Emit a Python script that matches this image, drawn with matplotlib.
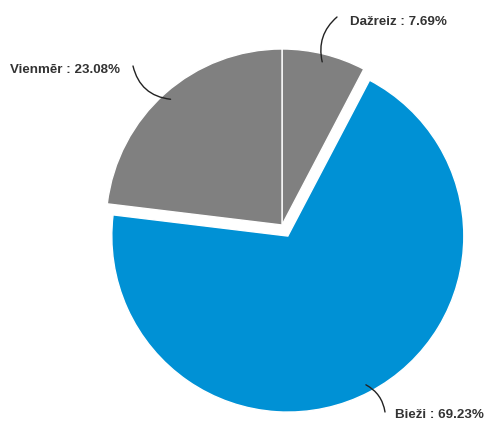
import numpy as np
import matplotlib
matplotlib.use("Agg")
import matplotlib.pyplot as plt

# answer shares, clockwise from the top
labels = ["Dažreiz", "Bieži", "Vienmēr"]
shares = [7.69, 69.23, 23.08]
colors = ["#808080", "#0091d5", "#808080"]

plt.rcParams['font.family'] = ['Liberation Sans', 'DejaVu Sans']

fig = plt.figure(figsize=(4.88, 4.23), dpi=100)
ax = fig.add_axes([0, 0, 1, 1])

cx, cy, r = 282, 198, 176
explode = [0, 12.5, 0]  # pie offsets wedges in data units
wedges, _ = ax.pie(shares, colors=colors, explode=explode, startangle=90,
                   counterclock=False, center=(cx, cy), radius=r,
                   wedgeprops=dict(edgecolor="white", linewidth=1))
ax.set_xlim(0, 488)
ax.set_ylim(0, 423)
ax.set_aspect("equal")
ax.axis("off")

# label text anchor (left edge, middle), leader end and curve bend
text_pos = [(350, 401), (395, 8), (10, 353)]
line_end = [(337, 406), (385, 11), (133, 357)]
bends = [0.3, 0.25, 0.35]

for w, lab, val, tp, le, rad in zip(wedges, labels, shares, text_pos, line_end, bends):
    ang = np.deg2rad((w.theta1 + w.theta2) / 2)
    x0, y0 = w.center
    px = x0 + (w.r - 8) * np.cos(ang)
    py = y0 + (w.r - 8) * np.sin(ang)
    ax.annotate("", xy=(px, py), xytext=le,
                arrowprops=dict(arrowstyle="-", color="#222222", lw=1,
                                connectionstyle=f"arc3,rad={rad}",
                                shrinkA=0, shrinkB=0))
    ax.text(tp[0], tp[1], f"{lab} : {val:.2f}%", ha="left", va="center",
            fontsize=9.6, fontweight="bold", color="#333333")

fig.savefig("out.png", dpi=100)
